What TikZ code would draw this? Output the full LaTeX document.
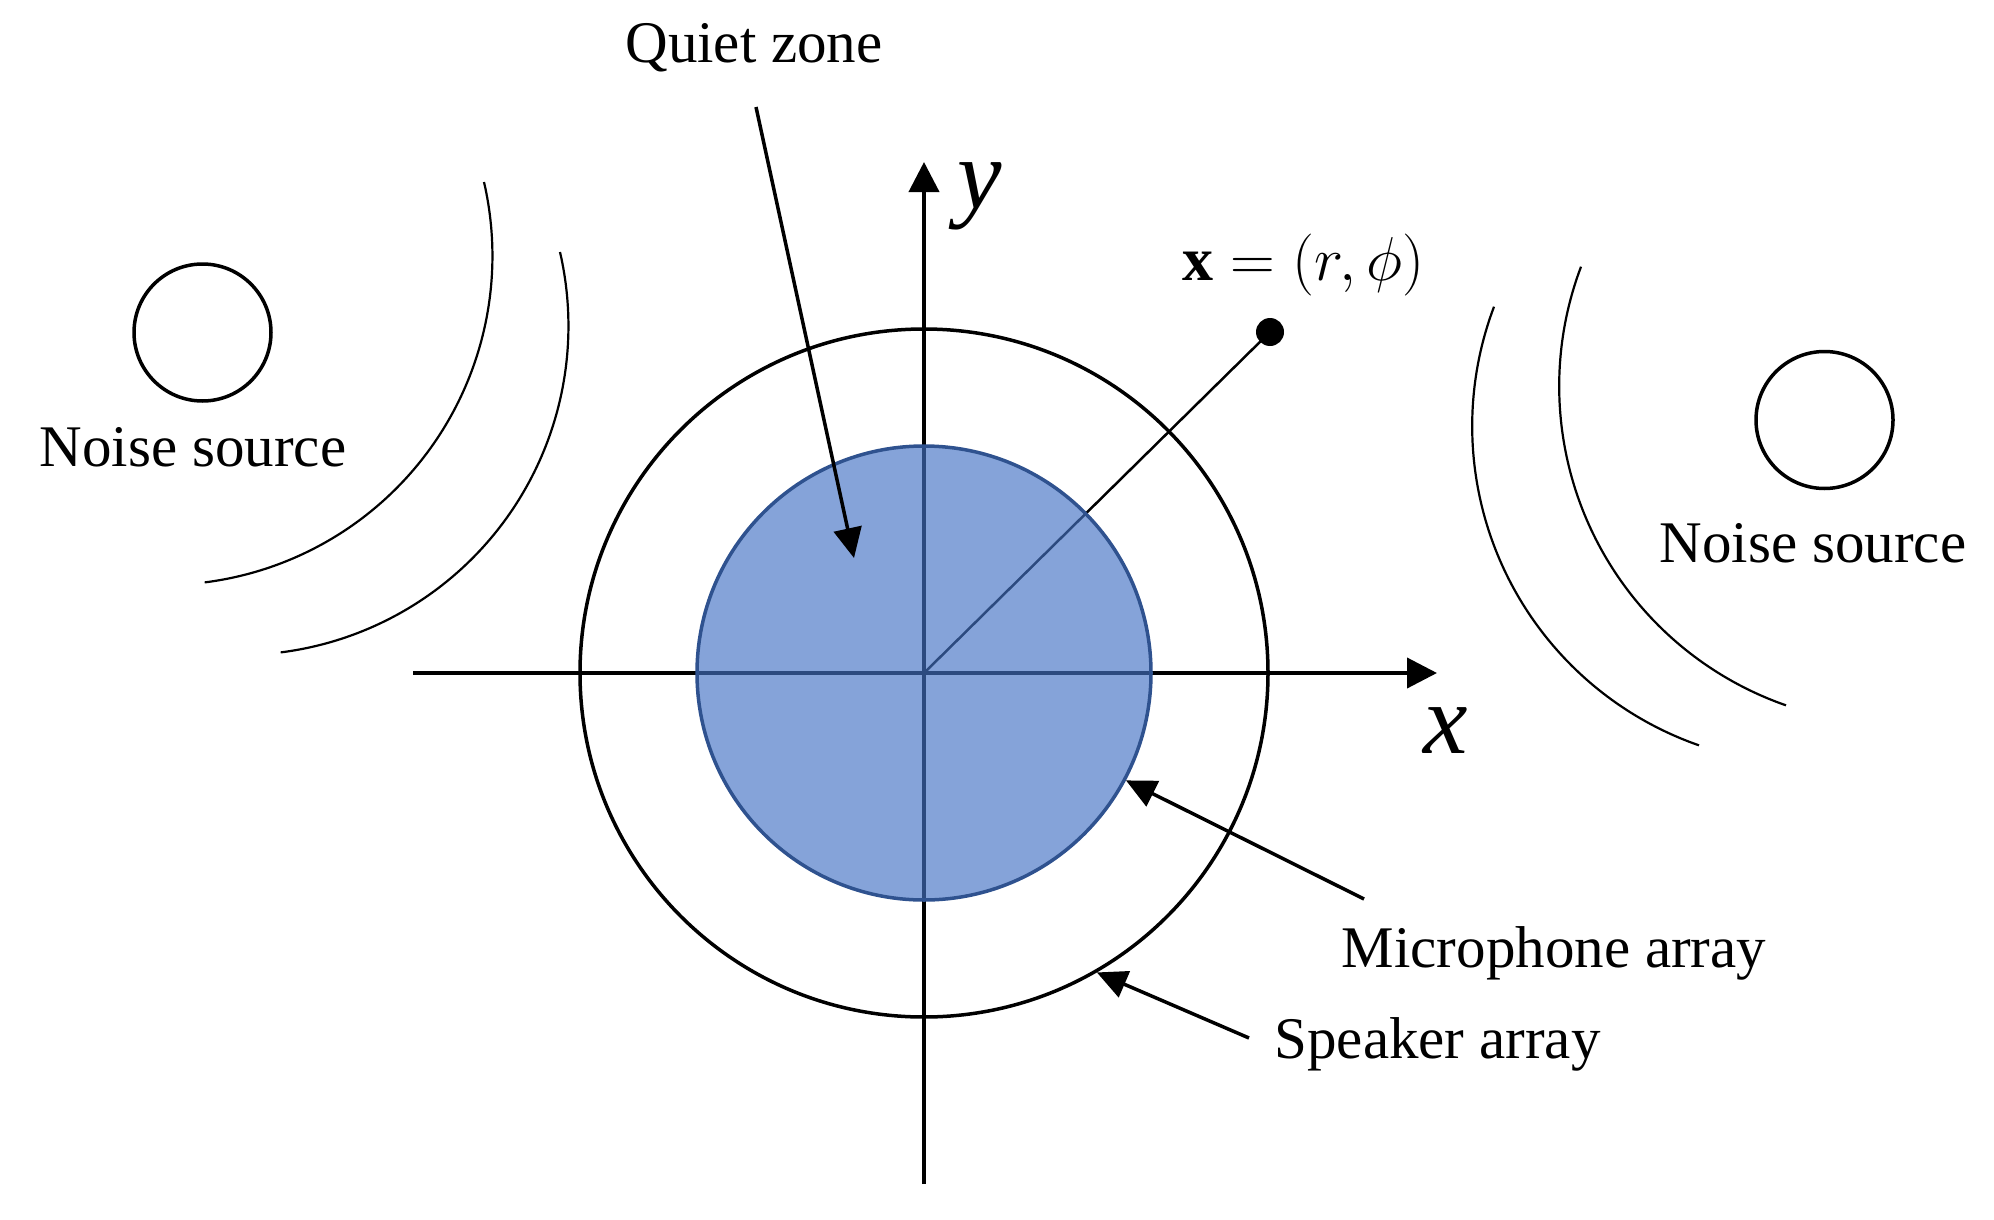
\RequirePackage{fix-cm}
\documentclass[tikz,border=0pt]{standalone}
\usepackage{fontspec}
\setmainfont{Liberation Serif}
\usetikzlibrary{arrows.meta}
\definecolor{qfill}{HTML}{4472C4}
\definecolor{qedge}{HTML}{2F528F}
\begin{document}
\begin{tikzpicture}[x=1pt,y=-1pt,
  lbl/.style={font=\fontsize{59}{70}\selectfont, anchor=base, inner sep=0pt},
  axlbl/.style={font=\fontsize{100}{110}\selectfont\itshape, anchor=base, inner sep=0pt},
  pointer/.style={line width=3.5pt, -{Triangle[length=30pt,width=28pt]}},
  axisline/.style={line width=4pt, -{Triangle[length=30pt,width=30pt]}},
  wave/.style={line width=2.2pt},
  src/.style={circle, draw, line width=3.5pt, minimum size=137pt, inner sep=0pt},
]
\useasboundingbox (0,0) rectangle (1994,1220);
% axes
\coordinate (O) at (924,673);
\coordinate (xs) at (413,673);
\coordinate (xe) at (1437,673);
\coordinate (ys) at (924,1184);
\coordinate (ye) at (924,162);
\draw[axisline] (xs) -- (xe);
\draw[axisline] (ys) -- (ye);
% point x
\node[circle, fill, minimum size=28pt, inner sep=0pt] (pt) at (1270,332) {};
\draw[line width=2.5pt] (O) -- (pt.center);
% arrays
\node[circle, draw, line width=3.5pt, minimum size=688pt, inner sep=0pt] (spk) at (O) {};
\node[circle, draw=qedge, fill=qfill, fill opacity=0.65, line width=3.5pt, minimum size=454pt, inner sep=0pt] (mic) at (O) {};
% noise sources
\node[src] (ns1) at (202.5,332.5) {};
\node[src] (ns2) at (1824.5,420) {};
% waves
\coordinate (w1) at (484,182);
\coordinate (w2) at (560,252);
\coordinate (w3) at (1494,306.7);
\coordinate (w4) at (1581,266.7);
\draw[wave] (w1) arc[start angle=13, end angle=-82.8, radius=329pt];
\draw[wave] (w2) arc[start angle=13, end angle=-82.8, radius=329pt];
\draw[wave] (w3) arc[start angle=159.3, end angle=250.8, radius=338pt];
\draw[wave] (w4) arc[start angle=159.3, end angle=250.8, radius=338pt];
% labels
\node[lbl] (qz) at (754,63) {Quiet zone};
\node[lbl] (nl1) at (193,466) {Noise source};
\node[lbl] (nl2) at (1813,562.5) {Noise source};
\node[lbl] (ml) at (1554,967) {Microphone array};
\node[lbl] (sl) at (1437.5,1058) {Speaker array};
\node[lbl, font=\fontsize{62}{72}\selectfont] (xl) at (1303.5,280) {$\mathbf{x}=(r,\phi)$};
\node[axlbl] (xlab) at (1446,753) {x};
\node[axlbl] (ylab) at (980,208) {y};
% pointers
\coordinate (qa) at (756,107);
\coordinate (qb) at (854,558);
\draw[pointer] (qa) -- (qb);
\coordinate (ma) at (1364,899);
\draw[pointer] (ma) -- (mic.-28);
\coordinate (sa) at (1249,1038);
\draw[pointer] (sa) -- (spk.-60);
\end{tikzpicture}
\end{document}
